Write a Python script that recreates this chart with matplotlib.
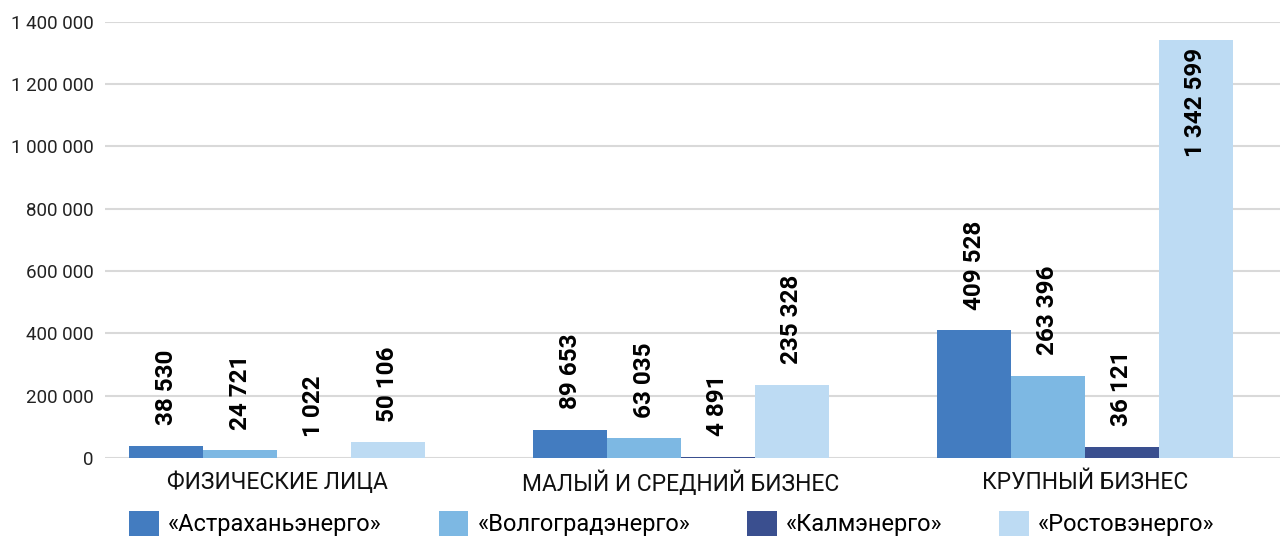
import matplotlib
matplotlib.use('Agg')

import numpy as np
import matplotlib.pyplot as plt
from matplotlib.ticker import FuncFormatter

categories = ['ФИЗИЧЕСКИЕ ЛИЦА', 'МАЛЫЙ И СРЕДНИЙ БИЗНЕС', 'КРУПНЫЙ БИЗНЕС']
series_names = ['«Астраханьэнерго»', '«Волгоградэнерго»', '«Калмэнерго»', '«Ростовэнерго»']
astrakhan = [38530, 89653, 409528]
volgograd = [24721, 63035, 263396]
kalm = [1022, 4891, 36121]
rostov = [50106, 235328, 1342599]
colors = ['#437cc0', '#7db8e3', '#3a4f8f', '#bddbf3']

plt.rcParams['font.family'] = ['Roboto', 'DejaVu Sans']


def spaced(v, pos=None):
    return '{:,}'.format(int(v)).replace(',', ' ')


fig = plt.figure(figsize=(12.8, 5.44), dpi=100)
ax = fig.add_axes([0.082, 0.158, 0.918, 0.802])

x = np.arange(len(categories))
w = 0.183
all_series = [astrakhan, volgograd, kalm, rostov]
for i, (vals, name, c) in enumerate(zip(all_series, series_names, colors)):
    pos = x + (i - 1.5) * w
    ax.bar(pos, vals, width=w, color=c, label=name, zorder=2)
    for px, v in zip(pos, vals):
        if v > 1200000:
            ax.annotate(spaced(v), (px, v), xytext=(0, -6), textcoords='offset points',
                        rotation=90, ha='center', va='top', fontsize=17.5,
                        fontweight='bold', color='black')
        else:
            ax.annotate(spaced(v), (px, v), xytext=(0, 15), textcoords='offset points',
                        rotation=90, ha='center', va='bottom', fontsize=17.5,
                        fontweight='bold', color='black')

ax.set_ylim(0, 1400000)
ax.set_xlim(-0.426, 2.483)
ax.set_yticks(np.arange(0, 1400001, 200000))
ax.yaxis.set_major_formatter(FuncFormatter(spaced))
ax.set_xticks(x)
ax.set_xticklabels(categories, fontsize=16.5)
ax.tick_params(axis='y', labelsize=13.5, length=0, pad=8, colors='#222222')
ax.tick_params(axis='x', length=0, pad=9, colors='#111111')
ax.grid(axis='y', color='#d9d9d9', linewidth=1.5, zorder=0)
ax.set_axisbelow(True)
for s in ax.spines.values():
    s.set_visible(False)

fig.legend(loc='lower center', ncol=4, frameon=False, fontsize=17,
           bbox_to_anchor=(0.525, -0.025), handlelength=1.25, handleheight=1.25,
           columnspacing=2.4, handletextpad=0.4)

fig.savefig('out.png', dpi=100)
